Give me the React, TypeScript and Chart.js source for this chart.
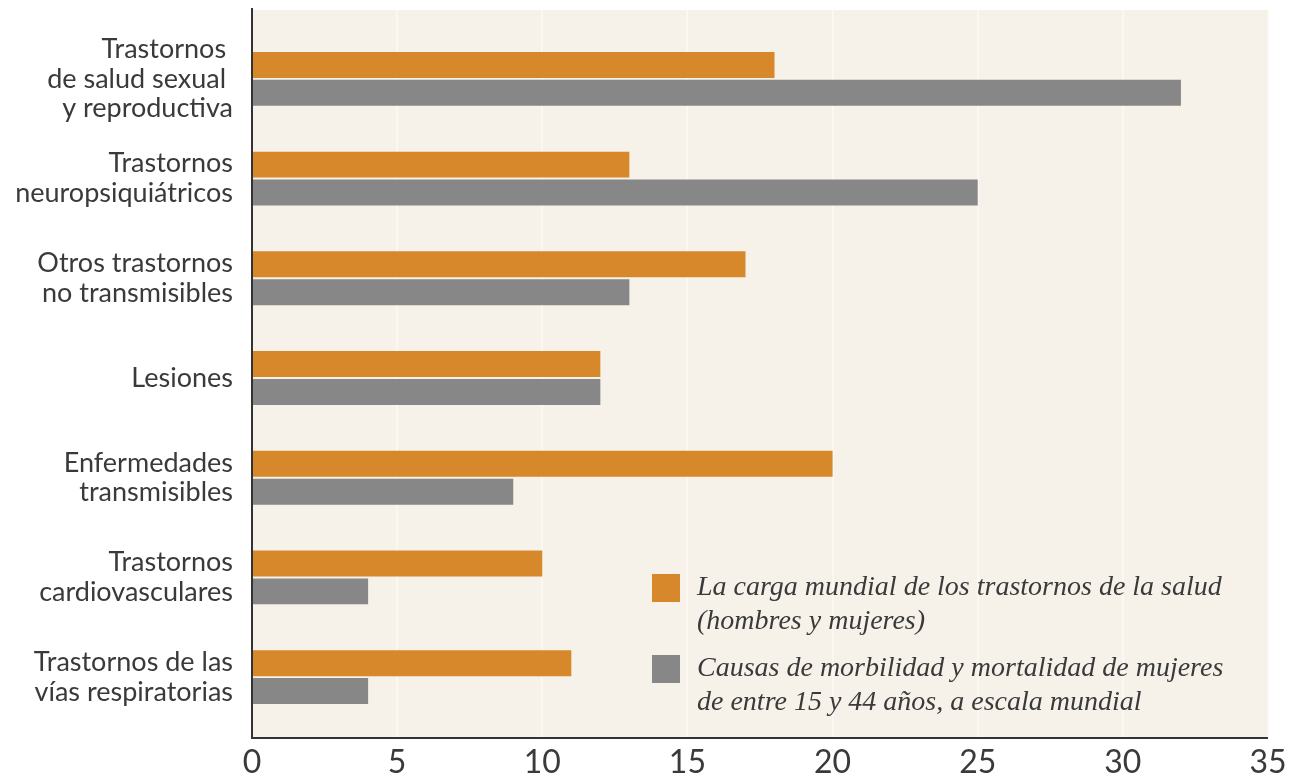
import React, { useEffect, useRef } from "react";
import { Chart, registerables } from "chart.js";

Chart.register(...registerables);

const categories: string[][] = [
  ["Trastornos ", "de salud sexual ", "y reproductiva"],
  ["Trastornos", "neuropsiquiátricos"],
  ["Otros trastornos", "no transmisibles"],
  ["Lesiones"],
  ["Enfermedades", "transmisibles"],
  ["Trastornos", "cardiovasculares"],
  ["Trastornos de las", "vías respiratorias"],
];

const cargaMundial = [18, 13, 17, 12, 20, 10, 11];
const mujeres15a44 = [32, 25, 13, 12, 9, 4, 4];

const legendLabels: string[][] = [
  ["La carga mundial de los trastornos de la salud", "(hombres y mujeres)"],
  ["Causas de morbilidad y mortalidad de mujeres", "de entre 15 y 44 años, a escala mundial"],
];

const xTicks = [0, 5, 10, 15, 20, 25, 30, 35];

const ORANGE = "#D6882B";
const GRAY = "#878787";
const BEIGE = "#F6F2EA";
const TEXT = "#3a3a3a";

const decorPlugin = {
  id: "decor",
  beforeDatasetsDraw(chart: any) {
    const { ctx, chartArea } = chart;
    const x = chart.scales.x;
    const top = chartArea.top - 19;
    const bottom = chartArea.bottom + 11;
    ctx.save();
    ctx.fillStyle = BEIGE;
    ctx.fillRect(chartArea.left, top, chartArea.right - chartArea.left + 1, bottom - top);
    ctx.strokeStyle = "#FCFAF5";
    ctx.lineWidth = 1.5;
    xTicks.forEach((v) => {
      if (v === 0) return;
      const px = Math.round(x.getPixelForValue(v));
      ctx.beginPath();
      ctx.moveTo(px, top);
      ctx.lineTo(px, bottom);
      ctx.stroke();
    });
    ctx.restore();
  },
  afterDatasetsDraw(chart: any) {
    const { ctx, chartArea } = chart;
    const top = chartArea.top - 21;
    const bottom = chartArea.bottom + 11;
    ctx.save();
    ctx.strokeStyle = "#333333";
    ctx.lineWidth = 2;
    ctx.beginPath();
    ctx.moveTo(chartArea.left, top);
    ctx.lineTo(chartArea.left, bottom);
    ctx.lineTo(chartArea.right, bottom);
    ctx.stroke();

    // legend
    const colors = [ORANGE, GRAY];
    const lx = 652;
    const ys = [574, 655];
    ctx.font = "italic 28px 'Liberation Serif'";
    ctx.textBaseline = "middle";
    ctx.textAlign = "left";
    legendLabels.forEach((lines, i) => {
      ctx.fillStyle = colors[i];
      ctx.fillRect(lx, ys[i], 28, 28);
      ctx.fillStyle = TEXT;
      lines.forEach((ln, j) => {
        ctx.fillText(ln, lx + 45, ys[i] + 14 + j * 34);
      });
    });
    ctx.restore();
  },
};

export default function App() {
  const ref = useRef<HTMLCanvasElement>(null);
  useEffect(() => {
    if (!ref.current) return;
    const chart = new Chart(ref.current, {
      type: "bar",
      data: {
        labels: categories as any,
        datasets: [
          {
            label: legendLabels[0].join(" "),
            data: cargaMundial,
            backgroundColor: ORANGE,
            categoryPercentage: 0.56,
            barPercentage: 0.93,
          },
          {
            label: legendLabels[1].join(" "),
            data: mujeres15a44,
            backgroundColor: GRAY,
            categoryPercentage: 0.56,
            barPercentage: 0.93,
          },
        ],
      },
      options: {
        indexAxis: "y",
        animation: false,
        responsive: false,
        layout: { padding: { top: 29, right: 31, left: 0, bottom: 0 } },
        plugins: {
          legend: { display: false },
          tooltip: { enabled: false },
        },
        scales: {
          x: {
            min: 0,
            max: 35,
            afterFit: (s: any) => {
              s.height = 51;
              s.paddingLeft = 0;
              s.paddingRight = 0;
            },
            afterBuildTicks: (s: any) => {
              s.ticks = xTicks.map((v) => ({ value: v }));
            },
            grid: { display: false, drawTicks: false },
            border: { display: false },
            ticks: {
              padding: 16,
              color: TEXT,
              font: { family: "Lato", size: 32 },
            },
          },
          y: {
            afterFit: (s: any) => {
              s.width = 252;
              s.paddingTop = 0;
              s.paddingBottom = 0;
            },
            grid: { display: false, drawTicks: false },
            border: { display: false },
            ticks: {
              padding: 19,
              color: TEXT,
              font: { family: "Lato", size: 27, lineHeight: 1.1 },
            },
          },
        },
      },
      plugins: [decorPlugin],
    });
    return () => chart.destroy();
  }, []);
  return (
    <div style={{ position: "fixed", left: 0, top: 0, width: 1299, height: 778, background: "#fff" }}>
      <canvas ref={ref} width={1299} height={778} style={{ width: 1299, height: 778 }} />
    </div>
  );
}
